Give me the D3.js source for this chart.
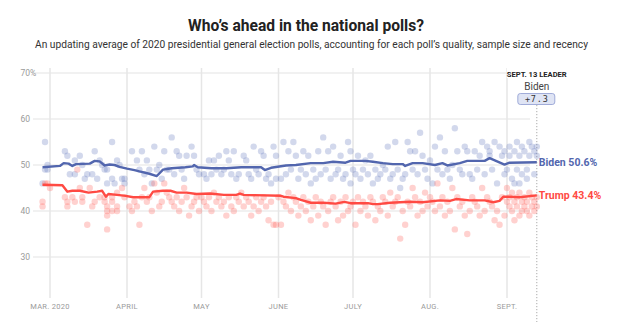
<!DOCTYPE html>
<html><head><meta charset="utf-8">
<script src="https://cdn.jsdelivr.net/npm/d3@7/dist/d3.min.js"></script>
<style>html,body{margin:0;padding:0;background:#fff;}svg{display:block;font-family:Roboto,"Noto Sans",sans-serif;}</style>
</head><body>
<svg id="c" width="639" height="322"></svg>
<script>
// ---- data (day offsets from 1 March 2020) ----
const startDate = new Date(2020, 2, 1);
const monthTicks = [[0,"MAR. 2020"],[31,"APRIL"],[61,"MAY"],[92,"JUNE"],[122,"JULY"],[153,"AUG."],[184,"SEPT."]];
const yTicks = [30, 40, 50, 60, 70];
const leaderDay = 196;
const leaderName = "Biden";
const leaderMargin = "+7.3";
const bidenFinal = 50.6;
const trumpFinal = 43.4;

const bidenAvg = [[-3,49.5],[4,49.8],[5.5,50.4],[7.5,50.3],[9,49.8],[10.5,50.2],[16,50.3],[18,50.9],[20,50.8],[22,49.9],[24,50.1],[26,50.0],[28,49.6],[31,49.2],[34,48.9],[36,48.6],[40,48.1],[43,47.6],[45.5,49.0],[49,49.3],[54.5,49.5],[57.5,49.7],[58,50.0],[59.5,49.5],[65,49.3],[71,49.3],[77,49.5],[85,49.5],[86.5,48.9],[89,49.4],[95,49.9],[99,50.0],[105,50.4],[110,50.4],[114,50.7],[119,50.5],[121,50.9],[127,50.9],[130,50.7],[134,50.4],[138,50.2],[142,50.2],[143,49.8],[146,50.4],[150,50.4],[155,50.0],[158,50.4],[160,49.9],[165,50.4],[168,50.9],[175,50.9],[177,51.5],[180,50.8],[183,50.1],[185,50.5],[196,50.6]];

const trumpAvg = [[-3,45.7],[5,45.6],[7,44.2],[9,44.4],[12,44.4],[15.5,44.0],[19,44.2],[21,44.4],[22.5,43.1],[23.5,43.7],[27,43.5],[30.5,43.3],[33.5,43.0],[40,43.0],[41.5,44.2],[45.5,44.4],[48.5,44.4],[51,44.0],[55,44.0],[59,43.7],[64.5,43.8],[70,43.5],[75,43.5],[76.5,43.8],[78,43.5],[93,43.3],[94,43.1],[99,42.8],[101,42.4],[105,41.8],[110,41.8],[115,41.6],[118.5,42.0],[121,41.7],[128,41.7],[130,41.5],[132,41.5],[137,41.8],[145,42.0],[150,41.9],[157,42.3],[161,42.2],[163.5,42.6],[169,42.3],[175,42.3],[178.5,41.9],[181,42.2],[182.5,43.1],[185,43.1],[189,43.0],[196,43.4]];

const bidenPolls = [[-2,55],[-2,49],[-1,49],[-3,46],[-1,50],[6,53],[7,52],[8,48],[10,51],[10,48],[12,52],[13,50],[14,47],[15,48],[17,48],[18,53],[20,51],[22,49],[23,49],[23,46],[25,55],[25,47],[26,46],[27,51],[28,50],[29,47],[30,46],[30,47],[21,50],[19,47],
[33,53],[35,51],[36,49],[37,53],[38,48],[39,51],[40,49],[41,46],[42,54],[43,49],[44,50],[45,47],[46,53],[47,49],[48,49],[49,56],[50,48],[51,53],[52,52],[53,49],[54,47],[55,52],[57,54],[58,52],[59,49],[60,48],
[62,48],[63,47],[64,51],[65,48],[66,51],[67,49],[68,52],[69,48],[70,49],[71,53],[72,51],[73,48],[74,53],[75,47],[76,48],[78,52],[79,51],[80,48],[81,47],[82,54],[83,49],[84,48],[85,53],[86,52],[87,47],[88,48],[89,46],[90,54],[91,52],[91,47],
[93,47],[94,55],[95,48],[96,53],[97,49],[98,55],[99,52],[100,47],[101,49],[102,53],[103,48],[104,52],[105,46],[106,49],[107,47],[108,53],[109,48],[110,56],[111,49],[112,53],[113,47],[114,54],[115,48],[116,49],[117,52],[118,47],[119,48],[120,55],[121,53],[121,46],
[122,49],[123,48],[124,52],[125,47],[126,49],[127,51],[128,48],[129,52],[130,46],[131,49],[132,47],[133,48],[134,50],[135,49],[136,54],[137,47],[138,48],[139,55],[140,49],[141,45],[142,47],[143,48],[144,55],[145,53],[146,49],[147,53],[148,48],[149,57],[150,52],[151,49],[152,47],
[153,51],[154,46],[155,54],[156,49],[157,56],[158,48],[159,53],[160,49],[161,47],[162,50],[163,58],[164,53],[165,49],[166,48],[167,54],[168,53],[169,48],[170,47],[171,53],[172,49],[173,52],[174,55],[175,48],[176,54],[177,53],[177,52],[178,49],[179,55],[180,46],[181,54],[182,52],[183,48],[183,53],
[184,49],[185,54],[185,52],[186,47],[187,53],[188,55],[188,49],[189,52],[190,48],[190,54],[191,53],[192,49],[192,47],[193,55],[193,52],[194,54],[195,48],[195,53],[196,54],[196,52],[187,46],[189,46]];

const trumpPolls = [[-2,46],[-1,46],[-3,42],[-3,41],[0,45],[6,43],[7,42],[7,41],[9,43],[10,42],[11,49],[12,45],[13,43],[13,42],[15,37],[16,45],[17,41],[18,42],[20,43],[22,43],[22,42],[23,41],[23,40],[23,39],[23,36],[25,43],[25,42],[25,40],[27,44],[27,41],[27,40],[29,45],[30,43],
[32,41],[33,40],[34,42],[35,41],[36,37],[37,43],[38,45],[39,42],[40,43],[41,40],[42,46],[43,44],[44,41],[45,42],[46,46],[47,44],[48,43],[49,42],[50,41],[51,43],[52,40],[53,42],[54,45],[55,43],[56,39],[57,41],[58,42],[59,43],[60,40],
[61,43],[62,42],[63,41],[64,43],[65,40],[66,44],[67,42],[68,43],[69,41],[70,42],[71,39],[72,43],[73,41],[74,40],[75,43],[76,42],[77,44],[78,41],[79,43],[80,42],[81,39],[82,41],[83,43],[84,40],[85,42],[86,43],[87,41],[88,38],[89,42],[90,37],[91,37],
[92,43],[93,37],[94,42],[95,41],[96,44],[97,40],[98,43],[99,42],[100,39],[101,41],[102,43],[103,40],[104,42],[105,38],[106,41],[107,43],[108,39],[109,42],[110,41],[111,37],[112,40],[113,42],[114,43],[115,41],[116,38],[117,42],[118,39],[119,43],[120,40],[121,41],
[122,42],[123,37],[124,43],[125,40],[126,42],[127,41],[128,39],[129,43],[130,42],[131,38],[132,41],[133,40],[134,43],[135,42],[136,39],[137,44],[138,41],[139,42],[140,43],[141,34],[142,40],[143,37],[144,42],[145,41],[146,45],[147,43],[148,39],[149,42],[150,40],[151,44],[152,41],
[153,43],[154,42],[155,40],[156,46],[157,41],[158,43],[159,39],[160,42],[161,40],[162,45],[163,36],[164,43],[165,41],[166,42],[167,39],[168,35],[169,40],[170,43],[171,42],[172,41],[173,39],[174,45],[175,40],[176,43],[177,42],[178,41],[179,38],[180,40],[181,37],[182,43],[183,39],
[184,42],[184,45],[185,41],[185,43],[186,40],[186,44],[187,42],[187,38],[188,43],[188,41],[189,39],[189,44],[190,42],[190,40],[191,43],[191,41],[192,42],[192,40],[193,44],[193,39],[194,43],[194,41],[195,42],[195,40],[196,43],[196,41]];

// ---- drawing ----
const BLUE = "#5266ae", RED = "#ff4a43";
const svg = d3.select("#c");
const toDate = d => new Date(startDate.getTime() + d * 864e5);
const x = d3.scaleTime().domain([startDate, new Date(2020, 8, 1)]).range([50, 507]);
const y = d3.scaleLinear().domain([30, 70]).range([257, 73]);
const X = d => x(toDate(d));

// title
svg.append("text").attr("x", 188).attr("y", 31).attr("textLength", 236).attr("lengthAdjust", "spacingAndGlyphs")
  .attr("font-size", 17).attr("font-weight", 700).attr("fill", "#222").text("Who’s ahead in the national polls?");
svg.append("text").attr("x", 35).attr("y", 48).attr("textLength", 553).attr("lengthAdjust", "spacingAndGlyphs")
  .attr("font-size", 10.5).attr("fill", "#333").text("An updating average of 2020 presidential general election polls, accounting for each poll’s quality, sample size and recency");

// grid
const g = svg.append("g");
g.selectAll(".hg").data(yTicks).join("line").attr("x1", 33).attr("x2", 530)
  .attr("y1", d => y(d)).attr("y2", d => y(d)).attr("stroke", "#e3e3e3").attr("stroke-width", 1);
g.selectAll(".vg").data(monthTicks).join("line").attr("x1", d => X(d[0])).attr("x2", d => X(d[0]))
  .attr("y1", 68).attr("y2", 298).attr("stroke", "#e6e6e6").attr("stroke-width", 1.5);
g.selectAll(".yl").data(yTicks).join("text").attr("x", 30).attr("y", d => y(d) + 3)
  .attr("text-anchor", "end").attr("font-size", 8.5).attr("fill", "#9a9a9a").text(d => d);
g.append("text").attr("x", 30).attr("y", y(70) + 3).attr("font-size", 8.5).attr("fill", "#9a9a9a").text("%");
g.selectAll(".xl").data(monthTicks).join("text").attr("x", d => X(d[0])).attr("y", 309)
  .attr("text-anchor", "middle").attr("font-size", 7.5).attr("letter-spacing", 0.3).attr("fill", "#9a9a9a").text(d => d[1]);

// dotted leader line
svg.append("line").attr("x1", X(leaderDay)).attr("x2", X(leaderDay)).attr("y1", 105).attr("y2", 322)
  .attr("stroke", "#aaa").attr("stroke-width", 1).attr("stroke-dasharray", "1.2,1.8");

// dots
svg.append("g").selectAll("circle").data(bidenPolls).join("circle")
  .attr("cx", d => X(d[0])).attr("cy", d => y(d[1])).attr("r", 3.2).attr("fill", "#6a7dc0").attr("fill-opacity", 0.3);
svg.append("g").selectAll("circle").data(trumpPolls).join("circle")
  .attr("cx", d => X(d[0])).attr("cy", d => y(d[1])).attr("r", 3.2).attr("fill", "#ff6660").attr("fill-opacity", 0.3);

// lines
const line = d3.line().x(d => X(d[0])).y(d => y(d[1]));
svg.append("path").datum(bidenAvg).attr("d", line).attr("fill", "none").attr("stroke", BLUE).attr("stroke-width", 2.4).attr("stroke-linejoin", "round");
svg.append("path").datum(trumpAvg).attr("d", line).attr("fill", "none").attr("stroke", RED).attr("stroke-width", 2.4).attr("stroke-linejoin", "round");

// end labels
svg.append("text").attr("x", X(leaderDay) + 2).attr("y", y(bidenFinal) + 4).attr("font-size", 10.5).attr("font-weight", 700)
  .attr("fill", BLUE).text(`Biden ${bidenFinal}%`);
svg.append("text").attr("x", X(leaderDay) + 2).attr("y", y(trumpFinal) + 4).attr("font-size", 10.5).attr("font-weight", 700)
  .attr("fill", RED).text(`Trump ${trumpFinal}%`);

// leader box
const lx = X(leaderDay);
svg.append("rect").attr("x", lx - 30).attr("y", 68).attr("width", 60).attr("height", 10).attr("fill", "#fff");
svg.append("text").attr("x", lx).attr("y", 77).attr("text-anchor", "middle").attr("font-size", 7.6).attr("font-weight", 700)
  .attr("fill", "#222").text("SEPT. 13 LEADER");
svg.append("text").attr("x", lx).attr("y", 90).attr("text-anchor", "middle").attr("font-size", 10)
  .attr("fill", "#444").text(leaderName);
svg.append("rect").attr("x", lx - 19).attr("y", 93.5).attr("width", 37).attr("height", 11).attr("rx", 2.5)
  .attr("fill", "#dfe4f4").attr("stroke", "#8d9bd0").attr("stroke-width", 0.8);
svg.append("text").attr("x", lx).attr("y", 102.2).attr("text-anchor", "middle").attr("font-size", 8.5)
  .attr("font-family", "DejaVu Sans Mono").attr("letter-spacing", 0.8).attr("fill", "#333").text(leaderMargin);
</script>
</body></html>
